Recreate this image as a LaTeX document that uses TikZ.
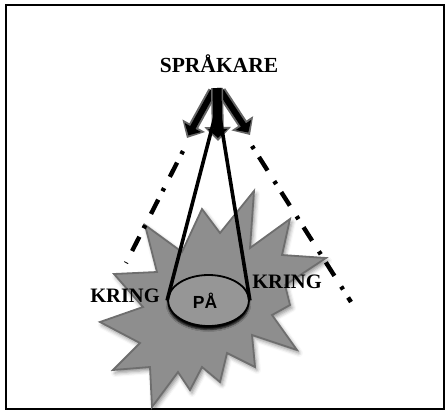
\documentclass[tikz,border=0pt]{standalone}
\usepackage{fontspec}
\setmainfont{Liberation Serif}
\newfontfamily\pasans{Liberation Sans}
\usetikzlibrary{arrows.meta,shadows.blur,shapes.geometric}
\definecolor{stargray}{HTML}{8E8E8E}
\definecolor{staredge}{HTML}{6E6E6E}
\definecolor{ellgray}{HTML}{969696}
\definecolor{arrgray}{HTML}{666666}
\tikzset{
  frame/.style={line width=2pt, draw=black},
  starburst/.style={fill=stargray, draw=staredge, line width=1.8pt, line join=miter,
    blur shadow={shadow xshift=2pt, shadow yshift=-3pt, shadow blur radius=4pt, shadow opacity=45}},
  ellbox/.style={ellipse, fill=ellgray, draw=black, line width=1.8pt, minimum width=81pt, minimum height=51pt, inner sep=0pt,
    blur shadow={shadow xshift=0pt, shadow yshift=-3.5pt, shadow blur radius=2pt, shadow opacity=100}},
  conel/.style={line width=3.6pt, draw=black},
  dashdot/.style={line width=4.4pt, draw=black, dash pattern=on 3.5pt off 9.5pt on 16pt off 12.6pt},
  arrout/.style={line width=10pt, draw=arrgray, -{Triangle[width=25pt,length=14pt]}},
  arrin/.style={line width=6pt, draw=black, shorten >=3pt, -{Triangle[width=18pt,length=9pt]}},
  midout/.style={line width=12pt, draw=arrgray, -{Triangle[width=26pt,length=14pt]}},
  midin/.style={line width=9pt, draw=black, shorten >=3pt, -{Triangle[width=19pt,length=9pt]}},
  bigtext/.style={font=\bfseries\fontsize{21.5}{24}\selectfont, inner sep=0pt, anchor=base},
  kring/.style={font=\bfseries\fontsize{20.5}{23}\selectfont, inner sep=0pt, anchor=base},
  patext/.style={font=\pasans\bfseries\fontsize{17.5}{20}\selectfont, inner sep=0pt, anchor=base},
}
\begin{document}
\begin{tikzpicture}[x=1pt,y=-1pt]
\useasboundingbox (0,0) rectangle (445,410);
\draw[frame] (5.5,5) rectangle (443.5,409);
% starburst
\draw[starburst] (145,225) -- (182,252) -- (202,209) -- (220,233) -- (254,191) -- (250,248)
  -- (290,219) -- (282,255) -- (326,258) -- (285,285) -- (290,305) -- (272,315)
  -- (297,350) -- (252,335) -- (255,367) -- (227,353) -- (220,382) -- (202,367)
  -- (190,390) -- (178,372) -- (152,407) -- (150,367) -- (113,370) -- (140,343)
  -- (100,322) -- (143,307) -- (114,274) -- (157,272) -- cycle;
% coordinates
\coordinate (apex) at (217,88);
\coordinate (apl) at (213,91);
\coordinate (apr) at (221,91);
\coordinate (tl) at (187,138);
\coordinate (tm) at (218,141);
\coordinate (tr) at (250,135);
\coordinate (cone) at (218,105);
\coordinate (dl1) at (183,151);
\coordinate (dl2) at (126,263);
\coordinate (dr1) at (252,146);
\coordinate (dr2) at (351,302);
% dash-dot lines
\draw[dashdot] (dl1) -- (dl2);
\draw[dashdot] (dr1) -- (dr2);
% ellipse
\node[ellbox] (pa) at (208.5,300.5) {};
\node[patext] (patxt) at (205,308) {PÅ};
% arrows
\draw[arrout] (apl) -- (tl);
\draw[arrout] (apr) -- (tr);
\draw[arrin] (apl) -- (tl);
\draw[arrin] (apr) -- (tr);
\draw[midout] (apex) -- (tm);
\draw[midin] (apex) -- (tm);
% cone lines
\draw[conel] (cone) -- (pa.west);
\draw[conel] (cone) -- (pa.east);
% texts
\node[bigtext] (spk) at (219,72) {SPRÅKARE};
\node[kring] (kl) at (125,302) {KRING};
\node[kring] (kr) at (287,288) {KRING};
\end{tikzpicture}
\end{document}
